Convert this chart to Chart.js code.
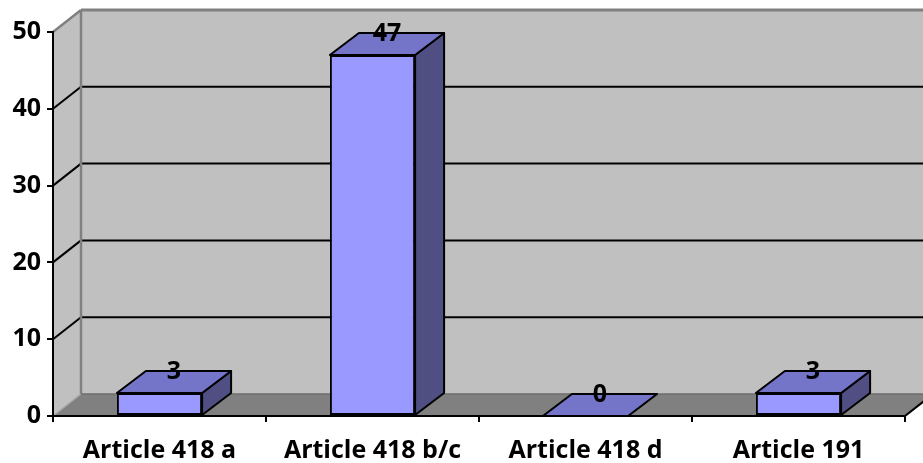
<!DOCTYPE html>
<html>
<head>
<meta charset="utf-8">
<script src="https://cdn.jsdelivr.net/npm/chart.js@4/dist/chart.umd.min.js"></script>
<style>
  html, body { margin: 0; padding: 0; background: #ffffff; }
  #wrap { width: 923px; height: 463px; }
</style>
</head>
<body>
<div id="wrap"><canvas id="c" width="923" height="463"></canvas></div>
<script>
// Categories and counts shown on the chart
const categories = ['Article 418 a', 'Article 418 b/c', 'Article 418 d', 'Article 191'];
const counts = [3, 47, 0, 3];
const yTicks = [0, 10, 20, 30, 40, 50];

// Depth offsets for the pseudo-3D walls and boxes
const WALL_DX = 28, WALL_DY = -22;
const BOX_DX = 29, BOX_DY = -22;

const FRONT = '#9999ff';
const TOP = '#7474c9';
const SIDE = '#4f4f83';
const FONT = "'Open Sans'";

function poly(ctx, pts, fill, stroke, lw) {
  ctx.beginPath();
  ctx.moveTo(pts[0][0], pts[0][1]);
  for (let i = 1; i < pts.length; i++) ctx.lineTo(pts[i][0], pts[i][1]);
  ctx.closePath();
  if (fill) { ctx.fillStyle = fill; ctx.fill(); }
  if (stroke) { ctx.strokeStyle = stroke; ctx.lineWidth = lw; ctx.stroke(); }
}

function line(ctx, x1, y1, x2, y2, color, lw) {
  ctx.beginPath();
  ctx.moveTo(x1, y1);
  ctx.lineTo(x2, y2);
  ctx.strokeStyle = color;
  ctx.lineWidth = lw;
  ctx.stroke();
}

// Back wall, side wall, floor and gridlines
const wallsPlugin = {
  id: 'walls',
  beforeDraw(chart) {
    const ctx = chart.ctx;
    const ys = chart.scales.y;
    const a = chart.chartArea;
    const L = a.left, R = a.right;
    const T = ys.getPixelForValue(yTicks[yTicks.length - 1]);
    const B = ys.getPixelForValue(0);
    const farR = R + WALL_DX + 40;
    ctx.save();
    ctx.lineJoin = 'miter';
    // back wall
    poly(ctx, [[L + WALL_DX, T + WALL_DY], [farR, T + WALL_DY], [farR, B + WALL_DY], [L + WALL_DX, B + WALL_DY]], '#c0c0c0');
    // side wall
    poly(ctx, [[L, T], [L + WALL_DX, T + WALL_DY], [L + WALL_DX, B + WALL_DY], [L, B]], '#c0c0c0');
    // floor
    poly(ctx, [[L, B], [L + WALL_DX, B + WALL_DY], [R + WALL_DX, B + WALL_DY], [R, B]], '#808080');
    // gridlines on the walls
    yTicks.forEach(v => {
      if (v === 0 || v === yTicks[yTicks.length - 1]) return;
      const y = ys.getPixelForValue(v);
      line(ctx, L, y, L + WALL_DX, y + WALL_DY, '#000000', 2);
      line(ctx, L + WALL_DX, y + WALL_DY, farR, y + WALL_DY, '#000000', 2);
    });
    // wall edges
    line(ctx, L, T, L + WALL_DX, T + WALL_DY, '#808080', 2.5);
    line(ctx, L + WALL_DX, T + WALL_DY, farR, T + WALL_DY, '#808080', 3);
    line(ctx, L + WALL_DX, T + WALL_DY, L + WALL_DX, B + WALL_DY, '#808080', 2.5);
    line(ctx, L, B, L + WALL_DX, B + WALL_DY, '#a6a6a6', 1.5);
    line(ctx, L + WALL_DX, B + WALL_DY, farR, B + WALL_DY, '#6e6e6e', 1.5);
    line(ctx, R, B, R + WALL_DX, B + WALL_DY, '#000000', 2);
    ctx.restore();
  }
};

// Top and side faces of each box plus the value labels
const boxPlugin = {
  id: 'boxes',
  afterDatasetsDraw(chart) {
    const ctx = chart.ctx;
    const meta = chart.getDatasetMeta(0);
    ctx.save();
    ctx.lineJoin = 'round';
    meta.data.forEach((bar, i) => {
      const p = bar.getProps(['x', 'y', 'base', 'width'], true);
      const l = p.x - p.width / 2, r = p.x + p.width / 2;
      const t = Math.min(p.y, p.base), b = Math.max(p.y, p.base);
      if (b - t > 0.5) {
        poly(ctx, [[r, t], [r + BOX_DX, t + BOX_DY], [r + BOX_DX, b + BOX_DY], [r, b]], SIDE, '#000000', 2);
      }
      poly(ctx, [[l, t], [l + BOX_DX, t + BOX_DY], [r + BOX_DX, t + BOX_DY], [r, t]], TOP, '#000000', 2);
    });
    ctx.fillStyle = '#000000';
    ctx.font = 'bold 25px ' + FONT;
    ctx.textAlign = 'center';
    ctx.textBaseline = 'middle';
    meta.data.forEach((bar, i) => {
      const p = bar.getProps(['x', 'y'], true);
      ctx.fillText(String(counts[i]), p.x + BOX_DX / 2, p.y + BOX_DY + 1);
    });
    ctx.restore();
  }
};

new Chart(document.getElementById('c'), {
  type: 'bar',
  data: {
    labels: categories,
    datasets: [{
      data: counts,
      backgroundColor: FRONT,
      borderColor: '#000000',
      borderWidth: 2,
      borderSkipped: false,
      categoryPercentage: 1.0,
      barPercentage: 0.4
    }]
  },
  options: {
    responsive: false,
    animation: false,
    devicePixelRatio: 1,
    layout: { padding: { left: 0, right: 18, top: 32, bottom: 0 } },
    plugins: { legend: { display: false }, tooltip: { enabled: false } },
    scales: {
      x: {
        grid: { offset: true, drawOnChartArea: false, drawTicks: true, tickLength: 6, color: '#000000', lineWidth: 2 },
        border: { display: true, color: '#000000', width: 2 },
        ticks: { color: '#000000', font: { family: FONT, weight: 'bold', size: 25 }, padding: 14, maxRotation: 0 },
        afterFit(s) { s.height = 47; }
      },
      y: {
        min: 0,
        max: 50,
        afterBuildTicks(s) { s.ticks = yTicks.map(v => ({ value: v })); },
        grid: { drawOnChartArea: false, drawTicks: true, tickLength: 6, color: '#000000', lineWidth: 2 },
        border: { display: true, color: '#000000', width: 2 },
        ticks: { color: '#000000', font: { family: FONT, weight: 'bold', size: 25 }, padding: 6 },
        afterFit(s) { s.width = 53; }
      }
    }
  },
  plugins: [wallsPlugin, boxPlugin]
});
</script>
</body>
</html>
